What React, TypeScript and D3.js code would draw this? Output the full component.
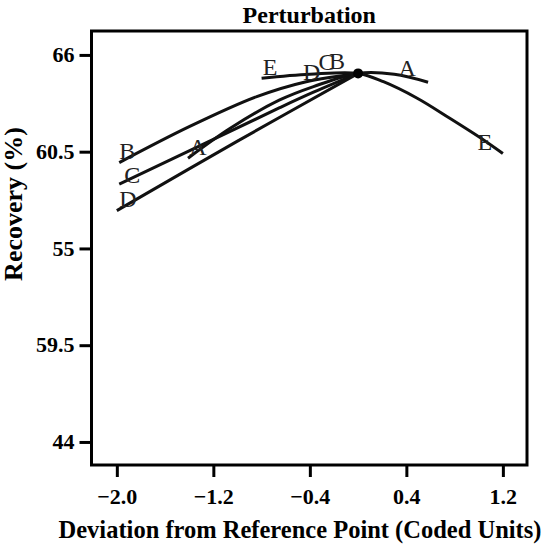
import { useEffect, useRef } from 'react';
import * as d3 from 'd3';

// Perturbation curves (x = coded deviation, y = recovery %)
const seriesNames = ['A', 'B', 'C', 'D', 'E'];

const curveA: [number, number][] = [
  [-1.41, 60.13], [-1.06, 61.83], [-0.65, 63.44], [-0.37, 64.2], [0, 64.95], [0.3, 64.9], [0.58, 64.45],
];
const curveB: [number, number][] = [
  [-1.98, 59.88], [-1.4, 61.92], [-0.84, 63.63], [-0.43, 64.48], [0, 64.95],
];
const curveC: [number, number][] = [
  [-1.98, 58.65], [-1.2, 61.2], [-0.65, 63.0], [-0.37, 63.88], [0, 64.95],
];
const curveD: [number, number][] = [
  [-2.0, 57.15], [-1.0, 61.1], [0, 64.95],
];
const curveE: [number, number][] = [
  [-0.8, 64.68], [-0.4, 64.9], [0, 64.95], [0.21, 64.48], [0.49, 63.54], [0.76, 62.4], [1.04, 61.17], [1.2, 60.4],
];

const referencePoint: [number, number] = [0, 64.95];

const xTicks = [-2.0, -1.2, -0.4, 0.4, 1.2];
const yTicks = [66, 60.5, 55, 49.5, 44];
const yTickLabels = ['66', '60.5', '55', '59.5', '44'];

// label offsets (px) from the start / end of each curve
const labelOffsets: Record<string, { start: [number, number]; end: [number, number] }> = {
  A: { start: [10, -3], end: [-21, -6] },
  B: { start: [8, -4], end: [-21, -4.5] },
  C: { start: [13, -1], end: [-31.5, -3.5] },
  D: { start: [11, -4], end: [-46.5, 6.5] },
  E: { start: [8.5, -3], end: [-18, -3.5] },
};

const serif = 'Liberation Serif';

export default function App() {
  const svgRef = useRef<SVGSVGElement>(null);
  const width = 550;
  const height = 548;

  useEffect(() => {
    const svg = d3.select(svgRef.current);
    svg.selectAll('*').remove();

    const left = 91.5, right = 527, top = 31, bottom = 465;

    const x = d3.scaleLinear().domain([-2.21, 1.4]).range([left, right]);
    const y = d3.scaleLinear().domain([42.69, 67.36]).range([bottom, top]);

    const curves: Record<string, [number, number][]> = {
      A: curveA, B: curveB, C: curveC, D: curveD, E: curveE,
    };

    // Title
    svg.append('text')
      .attr('x', (left + right) / 2)
      .attr('y', 23)
      .attr('text-anchor', 'middle')
      .attr('font-family', serif)
      .attr('font-weight', 'bold')
      .attr('font-size', 24)
      .text('Perturbation');

    // Axes
    const xAxis = svg.append('g')
      .attr('transform', `translate(0, ${bottom})`)
      .call(d3.axisBottom(x).tickValues(xTicks).tickSize(12).tickPadding(11).tickFormat(d3.format('.1f')));

    const yAxis = svg.append('g')
      .attr('transform', `translate(${left}, 0)`)
      .call(d3.axisLeft(y).tickValues(yTicks).tickSize(12).tickPadding(5)
        .tickFormat((d, i) => yTickLabels[i]));

    [xAxis, yAxis].forEach(g => {
      g.attr('font-family', serif).attr('font-size', 22).attr('font-weight', 'bold');
      g.select('.domain').remove();
      g.selectAll('.tick line').attr('stroke', '#000').attr('stroke-width', 3);
      g.selectAll('.tick text').attr('fill', '#000');
    });
    xAxis.selectAll('.tick text').attr('dy', '0.71em');
    yAxis.selectAll('.tick text').attr('dy', '0.3em');

    // Frame
    svg.append('rect')
      .attr('x', left)
      .attr('y', top)
      .attr('width', right - left)
      .attr('height', bottom - top)
      .attr('fill', 'none')
      .attr('stroke', '#000')
      .attr('stroke-width', 3);

    // Axis titles
    svg.append('text')
      .attr('x', 300)
      .attr('y', 538)
      .attr('text-anchor', 'middle')
      .attr('font-family', serif)
      .attr('font-weight', 'bold')
      .attr('font-size', 24.5)
      .text('Deviation from Reference Point (Coded Units)');

    svg.append('text')
      .attr('transform', `translate(22, 204) rotate(-90)`)
      .attr('text-anchor', 'middle')
      .attr('font-family', serif)
      .attr('font-weight', 'bold')
      .attr('font-size', 26)
      .text('Recovery (%)');

    // Curves
    const line = d3.line<[number, number]>()
      .x(d => x(d[0]))
      .y(d => y(d[1]))
      .curve(d3.curveCatmullRom.alpha(0.5));

    seriesNames.forEach(name => {
      svg.append('path')
        .datum(curves[name])
        .attr('d', line)
        .attr('fill', 'none')
        .attr('stroke', '#111')
        .attr('stroke-width', 3);
    });

    // Curve labels at both ends
    seriesNames.forEach(name => {
      const pts = curves[name];
      const first = pts[0];
      const last = pts[pts.length - 1];
      const off = labelOffsets[name];
      [[first, off.start], [last, off.end]].forEach(([p, o]) => {
        svg.append('text')
          .attr('x', x(p[0]) + o[0])
          .attr('y', y(p[1]) + o[1])
          .attr('text-anchor', 'middle')
          .attr('font-family', serif)
          .attr('font-size', 24)
          .attr('fill', '#222')
          .text(name);
      });
    });

    // Reference point
    svg.append('circle')
      .attr('cx', x(referencePoint[0]))
      .attr('cy', y(referencePoint[1]))
      .attr('r', 5)
      .attr('fill', '#000');
  }, []);

  return (
    <svg
      ref={svgRef}
      width={width}
      height={height}
      style={{ position: 'absolute', left: 0, top: 0, background: '#fff' }}
    />
  );
}
